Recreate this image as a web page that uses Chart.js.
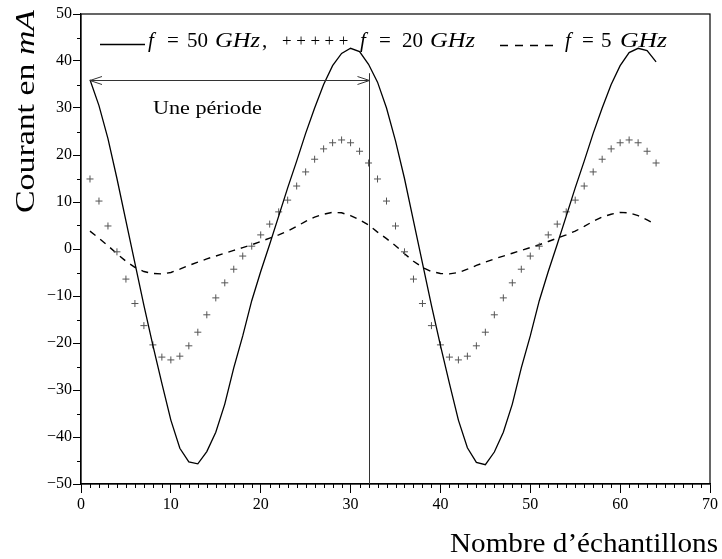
<!DOCTYPE html>
<html>
<head>
<meta charset="utf-8">
<script src="https://cdn.jsdelivr.net/npm/chart.js@4.4.1/dist/chart.umd.min.js"></script>
<style>
  html, body { margin: 0; padding: 0; background: #fff; }
  canvas { display: block; }
</style>
</head>
<body>
<canvas id="courant" width="722" height="559"></canvas>
<script>
'use strict';

// sample index (x axis)
const samples = [
  1, 2, 3, 4, 5, 6, 7, 8, 9, 10, 11, 12, 13, 14, 15, 16,
  17, 18, 19, 20, 21, 22, 23, 24, 25, 26, 27, 28, 29, 30, 31, 32,
  33, 34, 35, 36, 37, 38, 39, 40, 41, 42, 43, 44, 45, 46, 47, 48,
  49, 50, 51, 52, 53, 54, 55, 56, 57, 58, 59, 60, 61, 62, 63, 64
];

// current in mA
const i50GHz = [
  36, 30.5, 23.5, 15, 6, -3, -12, -20.5, -28.6, -36.4, -42.4, -45.3, -45.7, -43.1, -39, -33,
  -25.3, -18.5, -11, -4.8, 1, 7, 13, 18.7, 24.6, 30, 35, 39, 41.6, 42.7, 42, 39.3,
  35.5, 30, 23, 15, 6, -3, -12, -20.5, -28.6, -36.4, -42.3, -45.4, -45.9, -43.2, -39, -33,
  -25.3, -18.5, -11, -4.8, 1, 7, 13, 18.7, 24.6, 30, 35, 39, 41.8, 42.7, 42.2, 39.8
];
const i20GHz = [
  14.9, 10.2, 4.9, -0.6, -6.4, -11.6, -16.3, -20.4, -23, -23.6, -22.8, -20.6, -17.7, -14, -10.4, -7.2,
  -4.3, -1.5, 0.6, 3.0, 5.3, 7.9, 10.4, 13.4, 16.4, 19.1, 21.3, 22.6, 23.2, 22.6, 20.8, 18.3,
  14.9, 10.2, 4.9, -0.6, -6.4, -11.6, -16.3, -20.4, -23, -23.6, -22.8, -20.6, -17.7, -14, -10.4, -7.2,
  -4.3, -1.5, 0.6, 3.0, 5.3, 7.9, 10.4, 13.4, 16.4, 19.1, 21.3, 22.6, 23.2, 22.6, 20.8, 18.3
];
const i5GHz = [
  3.8, 2.3, 0.7, -1.0, -2.6, -3.9, -4.8, -5.2, -5.3, -5.0, -4.3, -3.5, -2.8, -2.1, -1.5, -0.9,
  -0.3, 0.3, 0.9, 1.6, 2.3, 3.0, 3.8, 4.8, 5.9, 6.8, 7.4, 7.8, 7.7, 7.1, 6.2, 5.1,
  3.6, 2.2, 0.7, -1.0, -2.6, -3.9, -4.8, -5.2, -5.3, -5.0, -4.3, -3.5, -2.8, -2.1, -1.5, -0.9,
  -0.3, 0.3, 0.9, 1.6, 2.3, 3.0, 3.8, 4.8, 5.9, 6.8, 7.4, 7.8, 7.7, 7.1, 6.2, 5.2
];

// axes
const xRange = [0, 70];
const yRange = [-50, 50];
const xStep = 10;
const yStep = 10;

// "Une période" annotation (data units)
const periodFrom = 1;
const periodTo = 32;
const periodArrowY = 36;
const periodLineTop = 37.4;
const periodLabel = 'Une période';
const periodLabelAt = [8, 28.7];

const SERIF = '"Liberation Serif", "Times New Roman", serif';

// draws runs of [text, italic] side by side, optionally squeezed/stretched to a width
function drawRuns(ctx, runs, x, y, size, width) {
  const fonts = runs.map(r => (r[1] ? 'italic ' : '') + size + 'px ' + SERIF);
  let w = 0;
  runs.forEach((r, i) => { ctx.font = fonts[i]; w += ctx.measureText(r[0]).width; });
  const k = width ? width / w : 1;
  ctx.save();
  ctx.translate(x, y);
  ctx.scale(k, 1);
  let cx = 0;
  runs.forEach((r, i) => {
    ctx.font = fonts[i];
    ctx.fillText(r[0], cx, 0);
    cx += ctx.measureText(r[0]).width;
  });
  ctx.restore();
}

function piece(ctx, text, x, y, italic, size, width) {
  drawRuns(ctx, [[text, italic]], x, y, size, width);
}

const decor = {
  id: 'decor',
  afterDraw(chart) {
    const { ctx, chartArea: a, scales: { x, y } } = chart;
    ctx.save();
    ctx.fillStyle = '#000';
    ctx.strokeStyle = '#000';
    ctx.textBaseline = 'alphabetic';
    ctx.textAlign = 'left';

    // frame
    ctx.lineWidth = 1.2;
    ctx.strokeRect(a.left, a.top, a.right - a.left, a.bottom - a.top);

    // minor ticks
    ctx.lineWidth = 1;
    ctx.beginPath();
    for (let v = xRange[0] + 1; v < xRange[1]; v++) {
      if (v % xStep === 0) continue;
      const px = Math.round(x.getPixelForValue(v)) + 0.5;
      ctx.moveTo(px, a.bottom);
      ctx.lineTo(px, a.bottom + 4);
    }
    for (let v = yRange[0] + yStep / 2; v < yRange[1]; v += yStep) {
      const py = Math.round(y.getPixelForValue(v)) + 0.5;
      ctx.moveTo(a.left - 4, py);
      ctx.lineTo(a.left, py);
    }
    ctx.stroke();

    // period marker: vertical line + double arrow
    const x0 = x.getPixelForValue(periodFrom);
    const x1 = Math.round(x.getPixelForValue(periodTo)) + 0.5;
    const ya = Math.round(y.getPixelForValue(periodArrowY)) + 0.5;
    ctx.strokeStyle = '#333';
    ctx.lineWidth = 1;
    ctx.beginPath();
    ctx.moveTo(x1, y.getPixelForValue(periodLineTop));
    ctx.lineTo(x1, a.bottom);
    ctx.moveTo(x0, ya);
    ctx.lineTo(x1, ya);
    ctx.moveTo(x0 + 12, ya - 4);
    ctx.lineTo(x0, ya);
    ctx.lineTo(x0 + 12, ya + 4);
    ctx.moveTo(x1 - 12, ya - 4);
    ctx.lineTo(x1, ya);
    ctx.lineTo(x1 - 12, ya + 4);
    ctx.stroke();
    drawRuns(ctx, [[periodLabel, false]],
      x.getPixelForValue(periodLabelAt[0]), y.getPixelForValue(periodLabelAt[1]), 18, 109);

    // legend
    const ly = 47;
    ctx.strokeStyle = '#000';
    ctx.lineWidth = 1.3;
    ctx.beginPath();
    ctx.moveTo(100, 44.5);
    ctx.lineTo(145, 44.5);
    ctx.stroke();
    piece(ctx, 'f', 148, ly, true, 21);
    piece(ctx, '=', 167, ly, false, 21);
    piece(ctx, '50', 187, ly, false, 21);
    piece(ctx, 'GHz', 215, ly, true, 21, 45);
    piece(ctx, ',', 262, ly, false, 21);

    ctx.font = '17px ' + SERIF;
    for (let k = 0; k < 5; k++) ctx.fillText('+', 282 + k * 14.2, ly - 1);
    piece(ctx, 'f', 360, ly, true, 21);
    piece(ctx, '=', 379, ly, false, 21);
    piece(ctx, '20', 402, ly, false, 21);
    piece(ctx, 'GHz', 430, ly, true, 21, 45);

    ctx.setLineDash([8, 7]);
    ctx.lineWidth = 1.3;
    ctx.beginPath();
    ctx.moveTo(500, 45.5);
    ctx.lineTo(555, 45.5);
    ctx.stroke();
    ctx.setLineDash([]);
    piece(ctx, 'f', 565, ly, true, 21);
    piece(ctx, '=', 582, ly, false, 21);
    piece(ctx, '5', 601, ly, false, 21);
    piece(ctx, 'GHz', 620, ly, true, 21, 47);

    // axis titles
    ctx.save();
    ctx.translate(34, 213);
    ctx.rotate(-Math.PI / 2);
    drawRuns(ctx, [['Courant en ', false], ['mA', true]], 0, 0, 28, 203);
    ctx.restore();
    drawRuns(ctx, [['Nombre d\u2019échantillons', false]], 450, 552, 28, 268);

    ctx.restore();
  }
};

const tickFont = { family: SERIF, size: 16 };

new Chart(document.getElementById('courant'), {
  type: 'line',
  data: {
    labels: samples,
    datasets: [
      {
        label: 'f = 50 GHz',
        data: i50GHz,
        borderColor: '#000',
        borderWidth: 1.3,
        pointRadius: 0,
        tension: 0,
        fill: false
      },
      {
        label: 'f = 20 GHz',
        data: i20GHz,
        showLine: false,
        pointStyle: 'cross',
        pointRadius: 3.5,
        borderColor: '#555',
        borderWidth: 1,
        backgroundColor: '#555'
      },
      {
        label: 'f = 5 GHz',
        data: i5GHz,
        borderColor: '#000',
        borderWidth: 1.4,
        borderDash: [7, 6],
        pointRadius: 0,
        tension: 0,
        fill: false
      }
    ]
  },
  options: {
    responsive: false,
    animation: false,
    layout: { padding: { left: 0, right: 12, top: 14, bottom: 0 } },
    plugins: {
      legend: { display: false },
      tooltip: { enabled: false }
    },
    scales: {
      x: {
        type: 'linear',
        min: xRange[0],
        max: xRange[1],
        afterFit: s => { s.height = 75; },
        ticks: { stepSize: xStep, color: '#000', font: tickFont, padding: 2, maxRotation: 0 },
        grid: { drawOnChartArea: false, tickLength: 9, color: '#000', tickColor: '#000' },
        border: { color: '#000', width: 1.2 }
      },
      y: {
        min: yRange[0],
        max: yRange[1],
        afterFit: s => { s.width = 81; },
        ticks: {
          stepSize: yStep,
          color: '#000',
          font: tickFont,
          padding: 1,
          callback: v => String(v).replace('-', '\u2212')
        },
        grid: { drawOnChartArea: false, tickLength: 8, color: '#000', tickColor: '#000' },
        border: { color: '#000', width: 1.2 }
      }
    }
  },
  plugins: [decor]
});
</script>
</body>
</html>
